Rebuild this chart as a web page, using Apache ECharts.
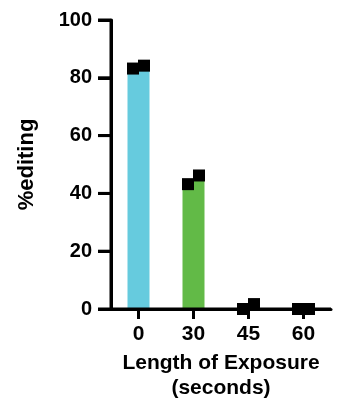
<!DOCTYPE html>
<html>
<head>
<meta charset="utf-8">
<script src="https://cdn.jsdelivr.net/npm/echarts@6/dist/echarts.min.js"></script>
<style>
  html, body { margin: 0; padding: 0; background: #fff; }
  #main { width: 349px; height: 406px; }
</style>
</head>
<body>
<div id="main"></div>
<script>
// exposure time categories (seconds)
const categories = ['0', '30', '45', '60']
// bar heights (mean %editing)
const barMeans = [83.7, 44.7, 0.8, 0]
// individual replicates
const rep1 = [83.2, 43.2, 0, 0]
const rep2 = [84.2, 46.2, 1.7, 0]
const barColors = ['#66cbde', '#62ba47', '#bbbbbb', '#bbbbbb']
const yTicks = [0, 20, 40, 60, 80, 100]

const font = 'Liberation Sans'
const chart = echarts.init(document.getElementById('main'))

chart.setOption({
  animation: false,
  graphic: [
    { id: 'panel', type: 'text', x: 9, y: -24,
      style: { text: 'b', font: 'bold 30px "Liberation Sans"', fill: '#000' } },
  ],
  grid: { left: 111, right: 18, top: 20, bottom: 94 },
  xAxis: {
    type: 'category',
    data: categories,
    name: 'Length of Exposure\n(seconds)',
    nameLocation: 'middle',
    nameGap: 42,
    nameTextStyle: { fontFamily: font, fontWeight: 'bold', fontSize: 21, color: '#000', lineHeight: 25 },
    axisLine: { show: true, lineStyle: { color: '#000', width: 3 } },
    axisTick: { show: true, alignWithLabel: true, length: 10, lineStyle: { color: '#000', width: 3 } },
    axisLabel: { fontFamily: font, fontWeight: 'bold', fontSize: 21, color: '#000', margin: 15 },
  },
  yAxis: {
    type: 'value',
    min: yTicks[0],
    max: yTicks[yTicks.length - 1],
    interval: 20,
    name: '%editing',
    nameLocation: 'middle',
    nameGap: 73,
    nameTextStyle: { fontFamily: font, fontWeight: 'bold', fontSize: 22, color: '#000' },
    axisLine: { show: true, lineStyle: { color: '#000', width: 3 } },
    axisTick: { show: true, length: 13, lineStyle: { color: '#000', width: 3 } },
    axisLabel: { fontFamily: font, fontWeight: 'bold', fontSize: 20, color: '#000', margin: 19 },
    splitLine: { show: false },
  },
  series: [
    { type: 'bar', barWidth: 22,
      data: barMeans.map((v, i) => ({ value: v, itemStyle: { color: barColors[i] } })) },
    { type: 'scatter', symbol: 'rect', symbolSize: 12, symbolOffset: [-5.5, 0],
      itemStyle: { color: '#000', opacity: 1 }, data: rep1, z: 5 },
    { type: 'scatter', symbol: 'rect', symbolSize: 12, symbolOffset: [5.5, 0],
      itemStyle: { color: '#000', opacity: 1 }, data: rep2, z: 5 },
  ],
})

// axis lines + ticks placed from the chart's own scales
const stroke = { stroke: '#000', lineWidth: 3 }
const yPix = yTicks.map(v => chart.convertToPixel({ yAxisIndex: 0 }, v))
const xPix = categories.map(c => chart.convertToPixel({ xAxisIndex: 0 }, c))
const band = xPix[1] - xPix[0]
const axisLeft = xPix[0] - band / 2
const axisRight = xPix[xPix.length - 1] + band / 2
const axisBottom = yPix[0]
const axisTop = yPix[yPix.length - 1]

const axisEls = [
  { id: 'yline', type: 'line', z: 4, shape: { x1: axisLeft, y1: axisTop, x2: axisLeft, y2: axisBottom }, style: stroke },
  { id: 'xline', type: 'line', z: 4, shape: { x1: axisLeft, y1: axisBottom, x2: axisRight, y2: axisBottom }, style: stroke },
]
yPix.forEach((py, i) => axisEls.push({ id: 'ytick' + i, type: 'line', z: 4,
  shape: { x1: axisLeft - 13, y1: py, x2: axisLeft, y2: py }, style: stroke }))
xPix.forEach((px, i) => axisEls.push({ id: 'xtick' + i, type: 'line', z: 4,
  shape: { x1: px, y1: axisBottom, x2: px, y2: axisBottom + 10 }, style: stroke }))
chart.setOption({ graphic: axisEls })
</script>
</body>
</html>
